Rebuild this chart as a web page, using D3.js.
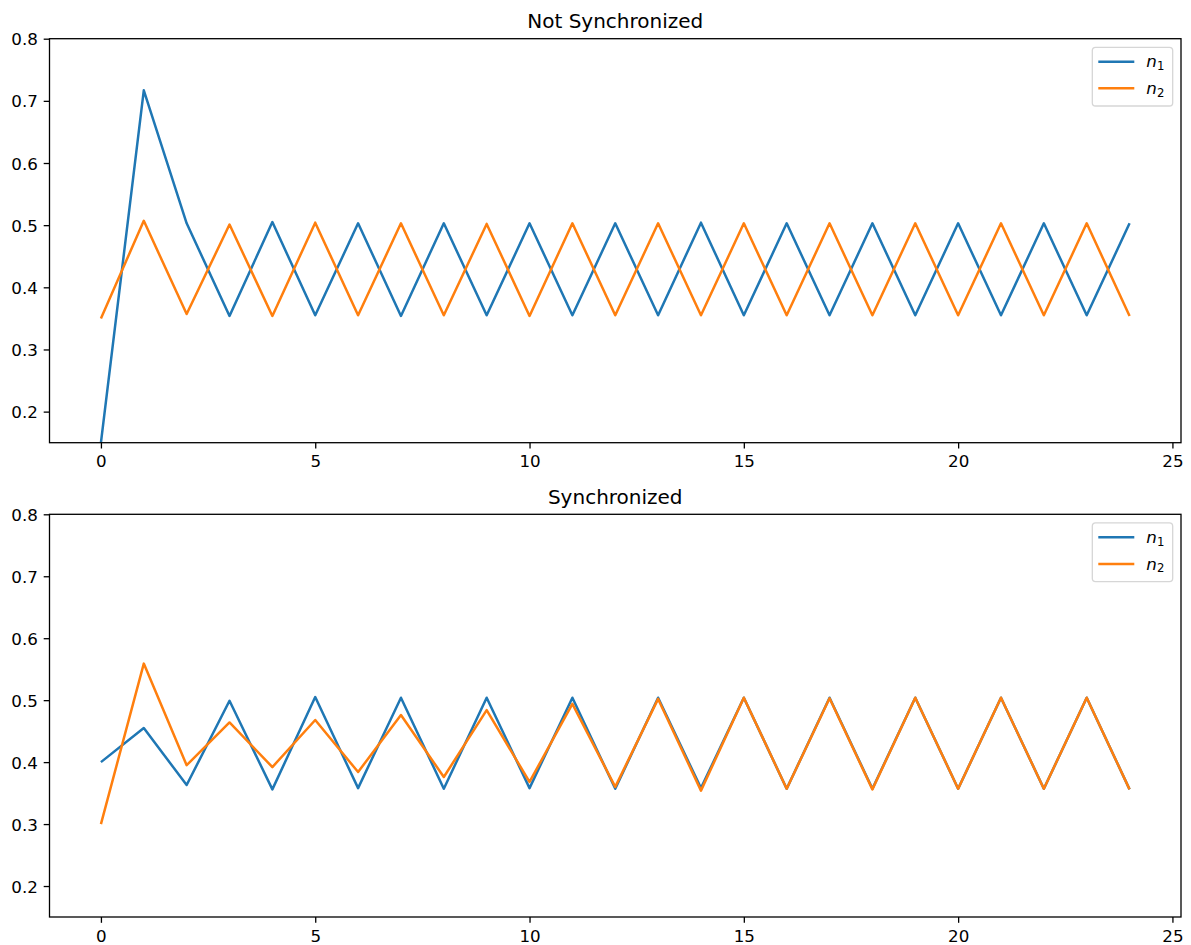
<!DOCTYPE html>
<html>
<head>
<meta charset="utf-8">
<script src="https://cdn.jsdelivr.net/npm/d3@7"></script>
<style>
  html, body { margin: 0; padding: 0; background: #fff; }
  svg { display: block; font-family: "DejaVu Sans", sans-serif; }
</style>
</head>
<body>
<svg id="chart" width="1191" height="945"></svg>
<script>
// ---- data ----
const steps = d3.range(0, 25);
const seriesNames = ["n1", "n2"];
const titles = ["Not Synchronized", "Synchronized"];
const xTicks = [0, 5, 10, 15, 20, 25];
const yTicks = [0.2, 0.3, 0.4, 0.5, 0.6, 0.7, 0.8];

const notSyncN1 = [0.15, 0.717, 0.503, 0.354, 0.505, 0.355, 0.503, 0.354, 0.503, 0.355, 0.503, 0.355, 0.503,
                   0.355, 0.504, 0.355, 0.503, 0.355, 0.503, 0.355, 0.503, 0.355, 0.503, 0.355, 0.503];
const notSyncN2 = [0.35, 0.507, 0.357, 0.501, 0.354, 0.504, 0.355, 0.503, 0.355, 0.502, 0.354, 0.503, 0.355,
                   0.503, 0.355, 0.503, 0.355, 0.503, 0.355, 0.503, 0.355, 0.503, 0.355, 0.503, 0.354];
const syncN1 = [0.40, 0.455, 0.363, 0.499, 0.356, 0.505, 0.358, 0.504, 0.357, 0.504, 0.358, 0.504, 0.357,
                0.504, 0.358, 0.504, 0.357, 0.504, 0.357, 0.504, 0.357, 0.504, 0.357, 0.504, 0.356];
const syncN2 = [0.30, 0.559, 0.395, 0.464, 0.392, 0.468, 0.384, 0.476, 0.376, 0.484, 0.368, 0.494, 0.360,
                0.502, 0.354, 0.504, 0.357, 0.503, 0.356, 0.504, 0.357, 0.504, 0.357, 0.504, 0.356];

const colors = ["#1f77b4", "#ff7f0e"];

// ---- layout ----
const svg = d3.select("#chart");
const left = 49.5, right = 1181;
const tickLen = 5.8, lw = 2.5, spineW = 1.3;
const panels = [
  { top: 38.7, bottom: 442.7, title: titles[0], series: [notSyncN1, notSyncN2] },
  { top: 514.3, bottom: 917.0, title: titles[1], series: [syncN1, syncN2] }
];

const x = d3.scaleLinear().domain([-1.2, 25.2]).range([left, right]);

panels.forEach((p, pi) => {
  const y = d3.scaleLinear().domain([0.15, 0.8]).range([p.bottom, p.top]);
  const g = svg.append("g");

  const clipId = "clip" + pi;
  svg.append("defs").append("clipPath").attr("id", clipId)
    .append("rect").attr("x", left).attr("y", p.top)
    .attr("width", right - left).attr("height", p.bottom - p.top);

  // lines
  const line = d3.line().x((d, i) => x(steps[i])).y(d => y(d));
  p.series.forEach((s, si) => {
    g.append("path").datum(s)
      .attr("clip-path", `url(#${clipId})`)
      .attr("fill", "none")
      .attr("stroke", colors[si])
      .attr("stroke-width", lw)
      .attr("stroke-linejoin", "round")
      .attr("stroke-linecap", "butt")
      .attr("d", line);
  });

  // axes
  const xAxis = d3.axisBottom(x).tickValues(xTicks).tickFormat(d3.format("d"))
    .tickSize(tickLen).tickPadding(tickLen);
  const gx = g.append("g").attr("transform", `translate(0,${p.bottom})`).call(xAxis);
  gx.select(".domain").remove();
  gx.selectAll("line").attr("stroke", "#000").attr("stroke-width", spineW);
  gx.selectAll("text").attr("fill", "#000").attr("font-size", "16.7px")
    .attr("font-family", "DejaVu Sans").attr("y", 24.6).attr("dy", null);

  const yAxis = d3.axisLeft(y).tickValues(yTicks).tickFormat(d3.format(".1f"))
    .tickSize(tickLen).tickPadding(tickLen);
  const gy = g.append("g").attr("transform", `translate(${left},0)`).call(yAxis);
  gy.select(".domain").remove();
  gy.selectAll("line").attr("stroke", "#000").attr("stroke-width", spineW);
  gy.selectAll("text").attr("fill", "#000").attr("font-size", "16.7px")
    .attr("font-family", "DejaVu Sans").attr("dy", "0.36em");

  // spines
  g.append("rect").attr("x", left).attr("y", p.top)
    .attr("width", right - left).attr("height", p.bottom - p.top)
    .attr("fill", "none").attr("stroke", "#000").attr("stroke-width", spineW);

  // title
  g.append("text").attr("x", (left + right) / 2).attr("y", p.top - 10.4)
    .attr("text-anchor", "middle").attr("font-size", "20px").attr("fill", "#000")
    .text(p.title);

  // legend
  const lx = 1092.3, ly = p.top + 8.6, lwid = 80.4, lh = 58.7;
  const lg = g.append("g");
  lg.append("rect").attr("x", lx).attr("y", ly).attr("width", lwid).attr("height", lh)
    .attr("rx", 3.3).attr("ry", 3.3)
    .attr("fill", "#fff").attr("fill-opacity", 0.8)
    .attr("stroke", "#d6d6d6").attr("stroke-width", 1.3);
  seriesNames.forEach((name, si) => {
    const yy = p.top + 23 + si * 26.6;
    lg.append("line").attr("x1", 1098.3).attr("x2", 1134.3).attr("y1", yy).attr("y2", yy)
      .attr("stroke", colors[si]).attr("stroke-width", lw);
    const t = lg.append("text").attr("x", 1146.3).attr("y", yy + 5.6)
      .attr("font-size", "16.7px").attr("fill", "#000");
    t.append("tspan").attr("font-style", "italic").text(name.charAt(0));
    t.append("tspan").attr("font-size", "11.7px").attr("dy", 2.6).text(name.slice(1));
  });
});
</script>
</body>
</html>
